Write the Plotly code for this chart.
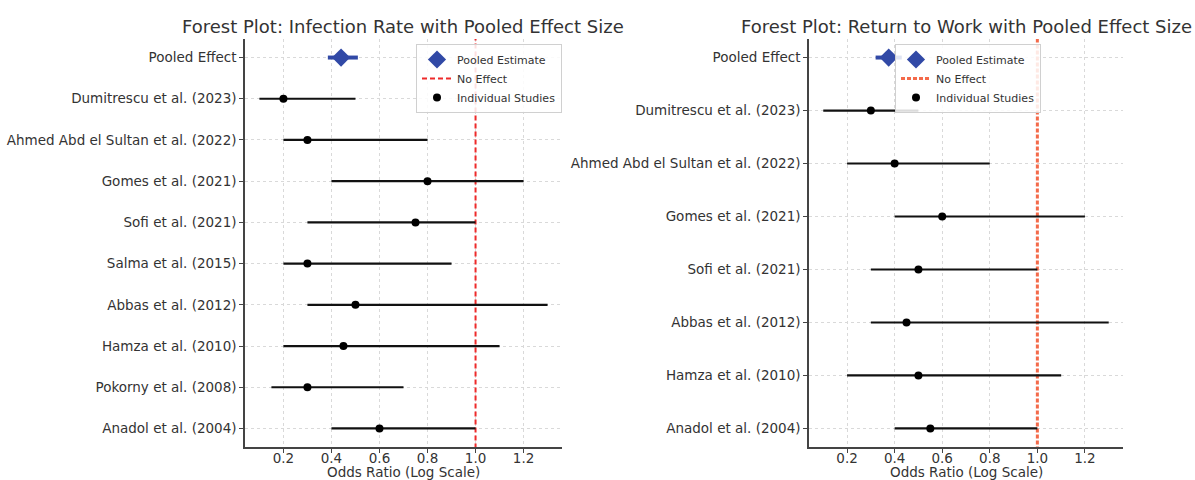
import plotly.graph_objects as go

# ---------------- data ----------------
inf_studies = ["Dumitrescu et al. (2023)", "Ahmed Abd el Sultan et al. (2022)", "Gomes et al. (2021)",
               "Sofi et al. (2021)", "Salma et al. (2015)", "Abbas et al. (2012)", "Hamza et al. (2010)",
               "Pokorny et al. (2008)", "Anadol et al. (2004)"]
inf_or = [0.20, 0.30, 0.80, 0.75, 0.30, 0.50, 0.45, 0.30, 0.60]
inf_lo = [0.10, 0.20, 0.40, 0.30, 0.20, 0.30, 0.20, 0.15, 0.40]
inf_hi = [0.50, 0.80, 1.20, 1.00, 0.90, 1.30, 1.10, 0.70, 1.00]
inf_pooled = 0.44
inf_pooled_lo = 0.385
inf_pooled_hi = 0.51

rtw_studies = ["Dumitrescu et al. (2023)", "Ahmed Abd el Sultan et al. (2022)", "Gomes et al. (2021)",
               "Sofi et al. (2021)", "Abbas et al. (2012)", "Hamza et al. (2010)", "Anadol et al. (2004)"]
rtw_or = [0.30, 0.40, 0.60, 0.50, 0.45, 0.50, 0.55]
rtw_lo = [0.10, 0.20, 0.40, 0.30, 0.30, 0.20, 0.40]
rtw_hi = [0.50, 0.80, 1.20, 1.00, 1.30, 1.10, 1.00]
rtw_pooled = 0.375
rtw_pooled_lo = 0.32
rtw_pooled_hi = 0.43

no_effect = 1.0
x_ticks = [0.2, 0.4, 0.6, 0.8, 1.0, 1.2]
x_ticklabels = ["0.2", "0.4", "0.6", "0.8", "1.0", "1.2"]

titles = ["Forest Plot: Infection Rate with Pooled Effect Size",
          "Forest Plot: Return to Work with Pooled Effect Size"]
x_title = "Odds Ratio (Log Scale)"
pooled_label = "Pooled Effect"

# ---------------- styling ----------------
FONT = "DejaVu Sans"
BLUE = "#3149a6"
TXT = "#333333"
W, H = 1195, 480
TICK_SIZE = 13.5

fig = go.Figure()


def add_panel(n, studies, orv, lo, hi, pooled, plo, phi, line_color, line_width, dash, legend_name):
    xa = "x" if n == 1 else f"x{n}"
    ya = "y" if n == 1 else f"y{n}"
    ys = list(range(1, len(studies) + 1))
    # Pooled estimate
    fig.add_trace(go.Scatter(
        x=[pooled], y=[0], mode="markers", name="Pooled Estimate",
        marker=dict(symbol="diamond", size=14, color=BLUE),
        error_x=dict(type="data", symmetric=False, array=[phi - pooled], arrayminus=[pooled - plo],
                     color=BLUE, thickness=4, width=0),
        xaxis=xa, yaxis=ya, legend=legend_name, legendrank=1))
    # No effect line
    fig.add_trace(go.Scatter(
        x=[no_effect, no_effect], y=[-5, len(studies) + 5], mode="lines", name="No Effect",
        line=dict(color=line_color, width=line_width, dash=dash),
        xaxis=xa, yaxis=ya, legend=legend_name, legendrank=2))
    # Individual studies
    fig.add_trace(go.Scatter(
        x=orv, y=ys, mode="markers", name="Individual Studies",
        marker=dict(symbol="circle", size=8, color="black"),
        error_x=dict(type="data", symmetric=False,
                     array=[h - o for h, o in zip(hi, orv)],
                     arrayminus=[o - l for o, l in zip(orv, lo)],
                     color="#111111", thickness=2.2, width=0),
        xaxis=xa, yaxis=ya, legend=legend_name, legendrank=3))
    return ys


ys1 = add_panel(1, inf_studies, inf_or, inf_lo, inf_hi, inf_pooled, inf_pooled_lo, inf_pooled_hi,
                "#ee2a2a", 2, "5px,3px", "legend")
ys2 = add_panel(2, rtw_studies, rtw_or, rtw_lo, rtw_hi, rtw_pooled, rtw_pooled_lo, rtw_pooled_hi,
                "#f46a4a", 3, "4px,2px", "legend2")

y_bot = (H - 447) / H
y_top = (H - 39) / H
dom1 = [245 / W, 562 / W]
dom2 = [809 / W, 1123 / W]

common_x = dict(range=[0.04, 1.36], tickvals=x_ticks, ticktext=x_ticklabels,
                showline=True, linecolor="#444444", linewidth=1.5,
                ticks="outside", ticklen=4, tickcolor="#444444", ticklabelstandoff=-6,
                showgrid=True, gridcolor="#d9d9d9", griddash="dot", gridwidth=1,
                zeroline=False, tickfont=dict(family=FONT, size=TICK_SIZE, color=TXT),
                automargin=False)
common_y = dict(showline=True, linecolor="#444444", linewidth=1.5,
                ticks="outside", ticklen=4, tickcolor="#444444",
                showgrid=True, gridcolor="#d9d9d9", griddash="dot", gridwidth=1,
                zeroline=False, tickfont=dict(family=FONT, size=TICK_SIZE, color=TXT),
                automargin=False)

legend_common = dict(bgcolor="rgba(255,255,255,0.85)", bordercolor="#d0d0d0", borderwidth=1,
                     font=dict(family=FONT, size=11, color=TXT), xanchor="left", yanchor="top",
                     tracegroupgap=0, itemsizing="trace")

annotations = []
for t, dom in zip(titles, [dom1, dom2]):
    annotations.append(dict(text=t, x=(dom[0] + dom[1]) / 2, y=1 - 26 / H, xref="paper", yref="paper",
                            showarrow=False, xanchor="center", yanchor="middle",
                            font=dict(family=FONT, size=18, color=TXT)))
    annotations.append(dict(text=x_title, x=(dom[0] + dom[1]) / 2, y=8 / H, xref="paper", yref="paper",
                            showarrow=False, xanchor="center", yanchor="middle",
                            font=dict(family=FONT, size=TICK_SIZE, color=TXT)))

fig.update_layout(
    width=W, height=H,
    margin=dict(l=0, r=0, t=0, b=0),
    paper_bgcolor="white", plot_bgcolor="white",
    showlegend=True,
    xaxis=dict(common_x, domain=dom1, anchor="y"),
    yaxis=dict(common_y, domain=[y_bot, y_top], anchor="x",
               range=[len(ys1) + 0.45, -0.45],
               tickvals=[0] + ys1, ticktext=[pooled_label] + inf_studies),
    xaxis2=dict(common_x, domain=dom2, anchor="y2"),
    yaxis2=dict(common_y, domain=[y_bot, y_top], anchor="x2",
                range=[len(ys2) + 0.35, -0.35],
                tickvals=[0] + ys2, ticktext=[pooled_label] + rtw_studies),
    legend=dict(legend_common, x=416 / W, y=1 - 44 / H),
    legend2=dict(legend_common, x=895 / W, y=1 - 44 / H),
    annotations=annotations,
)

fig.write_html("out.html")
